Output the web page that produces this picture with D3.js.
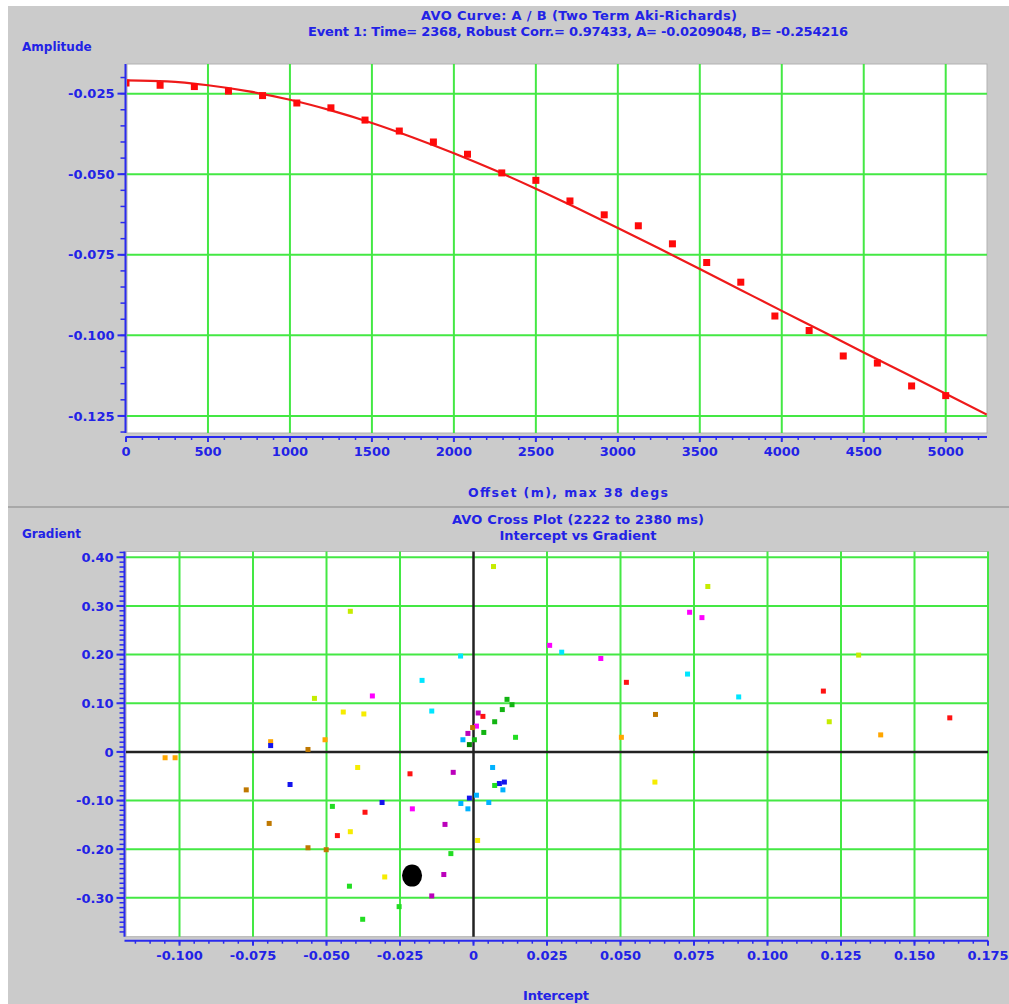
<!DOCTYPE html>
<html>
<head>
<meta charset="utf-8">
<script src="https://cdn.jsdelivr.net/npm/d3@7"></script>
<style>
  html, body { margin: 0; padding: 0; background: #ffffff; }
  svg { display: block; }
  text { font-family: "DejaVu Sans", Verdana, sans-serif; font-weight: bold; fill: #2222e6; }
</style>
</head>
<body>
<svg id="chart" width="1009" height="1004"></svg>
<script>
// ---- Event parameters (two-term Aki-Richards fit) ----
const eventTime = 2368;
const robustCorr = 0.97433;
const fitA = -0.0209048;
const fitB = -0.254216;
const maxAngle = 38;
const windowStart = 2222;
const windowEnd = 2380;

// ---- AVO curve: measured amplitudes per offset ----
const offsets = [0, 208, 417, 625, 833, 1042, 1250, 1458, 1667, 1875, 2083, 2292, 2500,
                 2708, 2917, 3125, 3333, 3542, 3750, 3958, 4167, 4375, 4583, 4792, 5000];
const amplitudes = [-0.0217, -0.0224, -0.0228, -0.0242, -0.0256, -0.0279, -0.0294, -0.0332,
                    -0.0366, -0.0400, -0.0438, -0.0496, -0.0519, -0.0583, -0.0626, -0.0660,
                    -0.0716, -0.0774, -0.0835, -0.0940, -0.0985, -0.1064, -0.1086, -0.1157, -0.1187];

// ---- Fitted curve, sampled along offset ----
const fitOffsets = [0, 250, 500, 750, 1000, 1250, 1500, 1750, 2000, 2250, 2500, 2750,
                    3000, 3250, 3500, 3750, 4000, 4250, 4500, 4750, 5000, 5250];
const fitAmplitudes = [fitA, -0.0212, -0.0224, -0.0243, -0.0269, -0.0302, -0.0341, -0.0386,
                       -0.0435, -0.0488, -0.0545, -0.0605, -0.0667, -0.0730, -0.0794, -0.0859,
                       -0.0924, -0.0988, -0.1053, -0.1117, -0.1181, -0.1246];

// ---- Cross plot: intercept / gradient pairs and their colour groups ----
const intercepts = [
  -0.0419, -0.0044, -0.0175, -0.0344, -0.0541, -0.0443, -0.0373, -0.0142, 0.0016, 0.0010,
  -0.0003, -0.0019, -0.0036, 0.0003, -0.0014, -0.0690, -0.0690, -0.0563, -0.0505, -0.1049,
  -0.1015, -0.0394, -0.0216, -0.0069, 0.0068, 0.0797, 0.0735, 0.0777, 0.0259, 0.0300,
  0.0433, 0.1310, 0.0728, 0.0520, 0.1190, 0.0902, 0.0114, 0.0131, 0.0098, 0.0032,
  0.0072, 0.0619, 0.1210, 0.1620, 0.0035, 0.0143, 0.0503, 0.1385, 0.0065, -0.0773,
  -0.0624, -0.0311, -0.0480, -0.0369, -0.0208, -0.0097, -0.0695, -0.0463, -0.0419, -0.0563,
  -0.0501, -0.0077, -0.0302, -0.0101, -0.0142, -0.0422, -0.0253, -0.0377, 0.0014, 0.0088,
  0.0105, 0.0072, 0.0100, -0.0014, 0.0010, -0.0043, 0.0052, -0.0019, 0.0617
];
const gradients = [
  0.289, 0.197, 0.147, 0.115, 0.110, 0.082, 0.078, 0.084, 0.080, 0.053,
  0.050, 0.038, 0.025, 0.025, 0.015, 0.021, 0.013, 0.005, 0.025, -0.012,
  -0.012, -0.032, -0.045, -0.042, 0.381, 0.340, 0.287, 0.276, 0.219, 0.205,
  0.192, 0.199, 0.160, 0.143, 0.125, 0.113, 0.108, 0.097, 0.087, 0.073,
  0.062, 0.077, 0.062, 0.070, 0.040, 0.030, 0.030, 0.035, -0.032, -0.078,
  -0.067, -0.104, -0.112, -0.124, -0.117, -0.149, -0.147, -0.172, -0.164, -0.197,
  -0.201, -0.209, -0.257, -0.252, -0.296, -0.276, -0.318, -0.344, -0.182, -0.065,
  -0.062, -0.069, -0.078, -0.095, -0.089, -0.106, -0.104, -0.117, -0.062
];
const pointGroups = [
  "lime", "cyan", "cyan", "magenta", "lime", "yellow", "yellow", "cyan", "purple", "magenta",
  "brown", "purple", "sky", "green", "darkgreen", "orange", "blue", "brown", "orange", "orange",
  "orange", "yellow", "red", "purple", "lime", "lime", "magenta", "magenta", "magenta", "cyan",
  "magenta", "lime", "cyan", "red", "red", "cyan", "green", "green", "green", "red",
  "green", "brown", "lime", "red", "green", "bright", "orange", "orange", "sky", "brown",
  "blue", "blue", "bright", "red", "magenta", "purple", "brown", "red", "yellow", "brown",
  "brown", "bright", "yellow", "purple", "purple", "bright", "bright", "bright", "yellow", "blue",
  "blue", "bright", "sky", "blue", "sky", "sky", "sky", "sky", "yellow"
];
const groupColors = {
  red: "#ff1212", orange: "#ffa600", yellow: "#f6ec00", lime: "#c6ec00",
  bright: "#22dd22", green: "#12b412", darkgreen: "#008a00", cyan: "#00e6ff",
  sky: "#00b2ff", blue: "#1414ee", magenta: "#ff00ff", purple: "#bb00bb", brown: "#bf7800"
};

// ---- Axis ticks ----
const ampTicks = [-0.125, -0.100, -0.075, -0.050, -0.025];
const offsetTicks = [0, 500, 1000, 1500, 2000, 2500, 3000, 3500, 4000, 4500, 5000];
const gradTicks = [-0.30, -0.20, -0.10, 0, 0.10, 0.20, 0.30, 0.40];
const interTicks = [-0.100, -0.075, -0.050, -0.025, 0, 0.025, 0.050, 0.075, 0.100, 0.125, 0.150, 0.175];

const fmt = (digits) => (v) => (Math.abs(v) < 1e-9 ? "0" : (v < 0 ? "-" : "") + Math.abs(v).toFixed(digits));

const BLUE = "#2a2aee";
const GRID = "#44e844";

const svg = d3.select("#chart");

// panel background and separator
svg.append("rect").attr("x", 8).attr("y", 6).attr("width", 1001).attr("height", 998).attr("fill", "#cbcbcb");
svg.append("line").attr("x1", 8).attr("x2", 1009).attr("y1", 507).attr("y2", 507)
  .attr("stroke", "#9d9d9d").attr("stroke-width", 1.5);

function minorRange(scale, step) {
  const [d0, d1] = scale.domain().slice().sort((a, b) => a - b);
  const out = [];
  for (let v = Math.ceil(d0 / step - 1e-9) * step; v <= d1 + 1e-9; v += step) out.push(+v.toFixed(6));
  return out;
}

// centred heading text; width is the span the heading occupies
function heading(x, y, str, width, size = 13) {
  const t = svg.append("text").attr("x", x).attr("y", y).attr("text-anchor", "middle")
    .attr("font-size", size).text(str);
  if (width) t.attr("textLength", width).attr("lengthAdjust", "spacing");
  return t;
}

function drawFrame(g, x, y, box, opts) {
  // plot area
  g.append("rect").attr("x", box.left).attr("y", box.top)
    .attr("width", box.right - box.left).attr("height", box.bottom - box.top)
    .attr("fill", "#ffffff").attr("stroke", "#b2b2b2").attr("stroke-width", 1);

  // grid
  g.append("g").selectAll("line").data(opts.xTicks.filter(v => v !== opts.xSkip)).join("line")
    .attr("x1", d => x(d)).attr("x2", d => x(d)).attr("y1", box.top).attr("y2", box.bottom)
    .attr("stroke", GRID).attr("stroke-width", 2);
  g.append("g").selectAll("line").data(opts.yTicks.filter(v => v !== opts.ySkip)).join("line")
    .attr("x1", box.left).attr("x2", box.right).attr("y1", d => y(d)).attr("y2", d => y(d))
    .attr("stroke", GRID).attr("stroke-width", 2);

  // y axis (left)
  const ax = box.left - 1.5;
  const ya = g.append("g");
  ya.append("line").attr("x1", ax).attr("x2", ax).attr("y1", box.top).attr("y2", box.bottom)
    .attr("stroke", BLUE).attr("stroke-width", 2);
  ya.selectAll("line.minor").data(minorRange(y, opts.yMinor)).join("line").attr("class", "minor")
    .attr("x1", ax - 5).attr("x2", ax).attr("y1", d => y(d)).attr("y2", d => y(d))
    .attr("stroke", BLUE).attr("stroke-width", 1.5);
  ya.selectAll("line.major").data(opts.yTicks).join("line").attr("class", "major")
    .attr("x1", ax - 8).attr("x2", ax).attr("y1", d => y(d)).attr("y2", d => y(d))
    .attr("stroke", BLUE).attr("stroke-width", 2);
  ya.selectAll("text").data(opts.yTicks).join("text")
    .attr("x", ax - 11).attr("y", d => y(d)).attr("dy", "0.36em")
    .attr("text-anchor", "end").attr("font-size", 13).text(opts.yFormat);

  // x axis (below, offset from the plot)
  const ay = box.bottom + 4;
  const xa = g.append("g");
  xa.append("line").attr("x1", box.left - 1.5).attr("x2", box.right).attr("y1", ay).attr("y2", ay)
    .attr("stroke", BLUE).attr("stroke-width", 2);
  xa.selectAll("line.minor").data(minorRange(x, opts.xMinor)).join("line").attr("class", "minor")
    .attr("x1", d => x(d)).attr("x2", d => x(d)).attr("y1", ay).attr("y2", ay + 3)
    .attr("stroke", BLUE).attr("stroke-width", 1.5);
  xa.selectAll("line.major").data(opts.xTicks).join("line").attr("class", "major")
    .attr("x1", d => x(d)).attr("x2", d => x(d)).attr("y1", ay).attr("y2", ay + 5)
    .attr("stroke", BLUE).attr("stroke-width", 2);
  xa.selectAll("text").data(opts.xTicks).join("text")
    .attr("x", d => x(d)).attr("y", ay + 19)
    .attr("text-anchor", "middle").attr("font-size", 13).text(opts.xFormat);
}

// ================= AVO curve panel =================
const topBox = { left: 127, top: 64, right: 987, bottom: 433 };
const xOff = d3.scaleLinear().domain([0, 5250]).range([126, 986.7]);
const yAmp = d3.scaleLinear().domain([-0.1303, -0.0158]).range([topBox.bottom, topBox.top]);
const gTop = svg.append("g");

svg.append("defs").append("clipPath").attr("id", "clipTop")
  .append("rect").attr("x", topBox.left).attr("y", topBox.top)
  .attr("width", topBox.right - topBox.left).attr("height", topBox.bottom - topBox.top);

drawFrame(gTop, xOff, yAmp, topBox, {
  xTicks: offsetTicks, yTicks: ampTicks, xSkip: 0, ySkip: null,
  xMinor: 100, yMinor: 0.005,
  xFormat: d => String(d), yFormat: fmt(3)
});

const topData = gTop.append("g").attr("clip-path", "url(#clipTop)");
topData.append("path")
  .datum(fitOffsets.map((o, i) => [o, fitAmplitudes[i]]))
  .attr("fill", "none").attr("stroke", "#ee1a1a").attr("stroke-width", 2.2)
  .attr("d", d3.line().x(d => xOff(d[0])).y(d => yAmp(d[1])).curve(d3.curveMonotoneX));
topData.selectAll("rect.pt").data(offsets.map((o, i) => [o, amplitudes[i]])).join("rect")
  .attr("class", "pt")
  .attr("x", d => xOff(d[0]) - 3.5).attr("y", d => yAmp(d[1]) - 3.5)
  .attr("width", 7).attr("height", 7).attr("fill", "#ff0a0a");

heading(579, 20, "AVO Curve: A / B (Two Term Aki-Richards)", 316);
heading(578, 36, `Event 1: Time= ${eventTime}, Robust Corr.= ${robustCorr}, A= ${fitA}, B= ${fitB}`, 540);
svg.append("text").attr("x", 22).attr("y", 51).attr("font-size", 12).text("Amplitude");
heading(568, 497, `Offset (m), max ${maxAngle} degs`, 200, 12.5);

// ================= Cross plot panel =================
const botBox = { left: 126, top: 551.5, right: 988, bottom: 936.7 };
const xInt = d3.scaleLinear().domain([-0.1182, 0.175]).range([126, 988]);
const yGrad = d3.scaleLinear().domain([-0.3798, 0.4119]).range([botBox.bottom, botBox.top]);
const gBot = svg.append("g");

drawFrame(gBot, xInt, yGrad, botBox, {
  xTicks: interTicks, yTicks: gradTicks, xSkip: 0, ySkip: 0,
  xMinor: 0.005, yMinor: 0.01,
  xFormat: fmt(3), yFormat: fmt(2)
});

// zero axes
gBot.append("line").attr("x1", xInt(0)).attr("x2", xInt(0)).attr("y1", botBox.top).attr("y2", botBox.bottom)
  .attr("stroke", "#222222").attr("stroke-width", 2.5);
gBot.append("line").attr("x1", botBox.left).attr("x2", botBox.right).attr("y1", yGrad(0)).attr("y2", yGrad(0))
  .attr("stroke", "#222222").attr("stroke-width", 2.5);

gBot.append("g").selectAll("rect").data(intercepts.map((v, i) => [v, gradients[i], pointGroups[i]])).join("rect")
  .attr("x", d => xInt(d[0]) - 2.5).attr("y", d => yGrad(d[1]) - 2.5)
  .attr("width", 5).attr("height", 5).attr("fill", d => groupColors[d[2]]);

// current event (A, B)
gBot.append("ellipse").attr("cx", xInt(fitA)).attr("cy", yGrad(fitB))
  .attr("rx", 10).attr("ry", 11).attr("fill", "#000000");

heading(578, 524, `AVO Cross Plot (${windowStart} to ${windowEnd} ms)`, 252);
heading(578, 540, "Intercept vs Gradient", 157);
svg.append("text").attr("x", 22).attr("y", 538).attr("font-size", 12).text("Gradient");
heading(556, 1000, "Intercept", 66);
</script>
</body>
</html>
